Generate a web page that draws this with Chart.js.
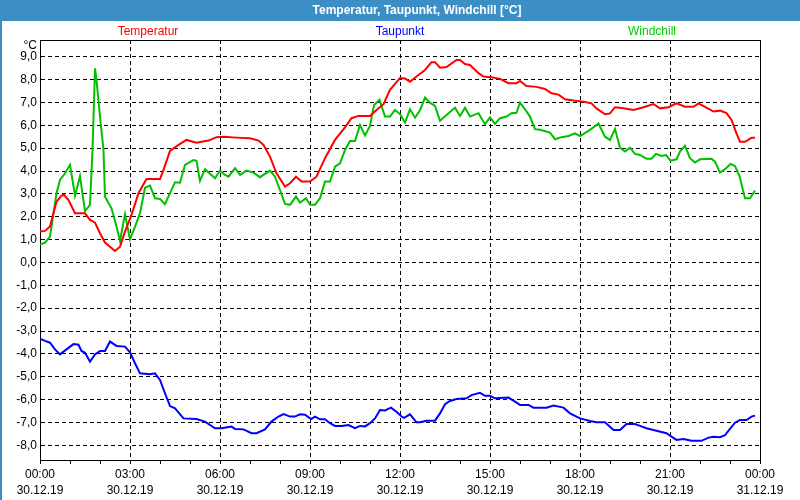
<!DOCTYPE html>
<html><head><meta charset="utf-8">
<script src="https://cdn.jsdelivr.net/npm/chart.js@4.4.0/dist/chart.umd.min.js"></script>
<style>html,body{margin:0;padding:0;background:#fff;}canvas{display:block}</style>
</head><body>
<canvas id="c" width="800" height="500"></canvas>
<script>
const chartTitle = 'Temperatur, Taupunkt, Windchill [°C]';
const unitLabel = '°C';
const seriesNames = ['Temperatur', 'Taupunkt', 'Windchill'];
const seriesColors = ['#ff0000', '#0000ff', '#00c000'];
const legendColors = ['#ff0000', '#0000ff', '#00cc00'];

const xTickMinutes = [0, 180, 360, 540, 720, 900, 1080, 1260, 1440];
const xTickTimes = ['00:00', '03:00', '06:00', '09:00', '12:00', '15:00', '18:00', '21:00', '00:00'];
const xTickDates = ['30.12.19', '30.12.19', '30.12.19', '30.12.19', '30.12.19', '30.12.19', '30.12.19', '30.12.19', '31.12.19'];
const yTicks = [-8, -7, -6, -5, -4, -3, -2, -1, 0, 1, 2, 3, 4, 5, 6, 7, 8, 9];

// minutes since 30.12.19 00:00
const tempMinutes = [0,10,20,27,33,43,48,57,70,90,100,110,120,130,140,150,160,170,183,197,213,240,247,260,277,293,313,337,353,367,393,420,437,447,460,473,490,500,512,523,540,553,570,590,610,623,637,660,673,687,700,720,730,740,753,770,783,790,800,813,833,840,850,860,877,887,903,920,937,953,960,973,993,1010,1023,1037,1050,1067,1087,1103,1113,1130,1140,1150,1167,1187,1207,1227,1240,1257,1273,1290,1307,1317,1330,1347,1360,1373,1383,1393,1400,1410,1423,1430];
const tempValues = [1.35,1.38,1.57,2.16,2.66,2.92,2.96,2.73,2.15,2.15,1.86,1.74,1.28,0.87,0.69,0.50,0.69,1.35,2.08,3.03,3.65,3.65,4.05,4.88,5.14,5.36,5.24,5.33,5.48,5.50,5.46,5.43,5.33,5.14,4.63,3.90,3.32,3.46,3.75,3.54,3.54,3.75,4.56,5.36,5.91,6.31,6.41,6.41,6.67,6.92,7.55,8.07,8.05,7.90,8.13,8.42,8.76,8.76,8.52,8.55,8.86,8.86,8.68,8.64,8.28,8.13,8.10,8.03,7.84,7.84,7.94,7.72,7.68,7.59,7.40,7.34,7.14,7.08,7.03,6.96,6.74,6.48,6.52,6.79,6.74,6.67,6.79,6.93,6.74,6.79,6.96,6.81,6.81,6.96,6.81,6.60,6.64,6.53,6.23,5.65,5.28,5.28,5.45,5.45];

const dewMinutes = [0,10,20,30,40,53,67,77,83,90,100,110,120,130,140,153,170,180,190,200,220,230,240,250,260,270,287,313,330,350,363,383,390,407,423,433,450,463,477,487,500,510,520,530,542,550,560,570,580,590,603,617,630,640,650,660,670,680,690,702,713,723,728,740,753,760,773,790,800,810,820,833,853,863,880,890,900,910,937,950,960,977,987,1013,1027,1047,1060,1080,1100,1113,1130,1147,1160,1173,1190,1200,1213,1233,1253,1263,1273,1287,1303,1323,1337,1347,1360,1370,1380,1390,1400,1413,1423,1430];
const dewValues = [-3.33,-3.43,-3.51,-3.80,-4.02,-3.80,-3.57,-3.60,-3.87,-3.95,-4.34,-4.02,-3.87,-3.87,-3.46,-3.65,-3.68,-3.93,-4.41,-4.85,-4.89,-4.85,-5.14,-5.72,-6.28,-6.38,-6.82,-6.85,-6.96,-7.25,-7.25,-7.18,-7.28,-7.30,-7.47,-7.47,-7.30,-6.96,-6.74,-6.63,-6.74,-6.74,-6.64,-6.66,-6.85,-6.74,-6.86,-6.86,-7.03,-7.15,-7.15,-7.11,-7.25,-7.15,-7.17,-7.03,-6.82,-6.45,-6.47,-6.35,-6.53,-6.74,-6.80,-6.64,-6.99,-6.99,-6.92,-6.92,-6.60,-6.20,-6.06,-5.97,-5.94,-5.80,-5.70,-5.83,-5.83,-5.94,-5.91,-6.09,-6.23,-6.23,-6.35,-6.35,-6.26,-6.35,-6.60,-6.82,-6.93,-6.99,-6.99,-7.33,-7.33,-7.07,-7.07,-7.15,-7.25,-7.36,-7.47,-7.62,-7.76,-7.72,-7.80,-7.80,-7.66,-7.62,-7.64,-7.55,-7.28,-7.01,-6.89,-6.89,-6.74,-6.70];

const chillMinutes = [0,10,20,27,33,40,50,60,70,80,90,100,105,110,113,120,127,130,143,153,160,170,180,190,200,210,220,230,240,250,260,270,280,290,307,313,320,330,350,360,370,377,390,400,413,427,440,460,470,480,490,500,512,520,532,540,550,560,570,580,590,600,610,620,630,640,650,660,668,679,690,700,710,720,730,740,750,760,770,780,790,800,817,830,840,850,860,877,890,900,910,920,933,943,953,960,970,980,990,1000,1020,1030,1043,1057,1070,1080,1100,1117,1130,1140,1150,1160,1170,1180,1190,1200,1213,1223,1232,1243,1252,1261,1273,1280,1290,1300,1310,1320,1343,1350,1360,1370,1381,1390,1399,1410,1420,1430];
const chillValues = [0.78,0.87,1.13,2.15,3.03,3.61,3.90,4.27,2.92,3.78,2.25,2.52,4.92,8.49,7.98,6.38,4.92,2.88,2.37,1.57,0.95,2.11,1.01,1.57,2.15,3.27,3.36,2.81,2.78,2.55,3.03,3.51,3.49,4.27,4.48,4.45,3.57,4.08,3.68,4.02,3.83,3.75,4.12,3.83,4.02,3.93,3.73,4.02,3.75,3.17,2.56,2.52,2.88,2.62,2.81,2.52,2.52,2.81,3.54,3.54,4.19,4.34,4.92,5.31,5.31,6.01,5.55,5.97,6.89,7.11,6.38,6.38,6.67,6.49,6.12,6.70,6.33,6.66,7.21,6.99,6.85,6.20,6.53,6.77,6.41,6.77,6.38,6.53,6.05,6.34,6.06,6.31,6.38,6.53,6.55,6.99,6.70,6.38,5.83,5.80,5.68,5.39,5.48,5.53,5.65,5.53,5.80,6.08,5.50,5.36,5.84,5.02,4.85,5.02,4.75,4.70,4.54,4.54,4.75,4.66,4.70,4.45,4.51,4.85,5.10,4.56,4.37,4.51,4.54,4.41,3.93,4.08,4.31,4.22,3.78,2.81,2.81,3.14];

function pts(xs, ys) { return xs.map((x, i) => ({ x: x, y: ys[i] })); }

const FONT = '"Liberation Sans", Arial, sans-serif';
const TITLE_BLUE = '#3b8fc5';

const decorPlugin = {
  id: 'decor',
  beforeDraw(chart) {
    const ctx = chart.ctx;
    const W = chart.width;
    ctx.save();
    ctx.fillStyle = '#ffffff';
    ctx.fillRect(0, 0, W, chart.height);
    ctx.fillStyle = TITLE_BLUE;
    ctx.fillRect(0, 0, W, 21);
    ctx.fillRect(0, 0, 2, chart.height);
    ctx.fillStyle = '#ffffff';
    ctx.font = 'bold 12px ' + FONT;
    ctx.textAlign = 'center';
    ctx.textBaseline = 'middle';
    ctx.fillText(chartTitle, 417, 11);
    const a = chart.chartArea;
    const legendX = [0.15, 0.5, 0.85];
    ctx.font = '12px ' + FONT;
    seriesNames.forEach((n, i) => {
      ctx.fillStyle = legendColors[i];
      ctx.fillText(n, a.left + (a.right - a.left) * legendX[i], 32);
    });
    ctx.fillStyle = '#000';
    ctx.textAlign = 'right';
    ctx.fillText(unitLabel, 37, 46);
    ctx.restore();
  },
  afterDatasetsDraw(chart) {
    const ctx = chart.ctx;
    const a = chart.chartArea;
    ctx.save();
    ctx.strokeStyle = '#000';
    ctx.lineWidth = 1;
    ctx.beginPath();
    ctx.moveTo(a.left, Math.round(a.top) + 0.5);
    ctx.lineTo(a.right + 1, Math.round(a.top) + 0.5);
    ctx.moveTo(Math.round(a.right) + 0.5, a.top);
    ctx.lineTo(Math.round(a.right) + 0.5, a.bottom);
    ctx.stroke();
    ctx.restore();
  }
};

new Chart(document.getElementById('c'), {
  type: 'line',
  data: {
    datasets: [
      { label: seriesNames[0], data: pts(tempMinutes, tempValues), borderColor: seriesColors[0] },
      { label: seriesNames[1], data: pts(dewMinutes, dewValues), borderColor: seriesColors[1] },
      { label: seriesNames[2], data: pts(chillMinutes, chillValues), borderColor: seriesColors[2] }
    ]
  },
  options: {
    responsive: false,
    animation: false,
    events: [],
    elements: {
      line: { borderWidth: 2, tension: 0, fill: false },
      point: { radius: 0 }
    },
    layout: { padding: { top: 40, right: 40, left: 0, bottom: 0 } },
    plugins: { legend: { display: false }, title: { display: false }, tooltip: { enabled: false } },
    scales: {
      x: {
        type: 'linear',
        min: 0,
        max: 1440,
        afterBuildTicks(scale) {
          const t = [];
          for (let m = 0; m <= 1440; m += 60) t.push({ value: m });
          scale.ticks = t;
        },
        afterFit(scale) { scale.height = 40; },
        ticks: {
          autoSkip: false,
          maxRotation: 0,
          padding: 3,
          color: '#000',
          font: { family: FONT, size: 12, lineHeight: 1.3333 },
          callback(v) {
            const i = xTickMinutes.indexOf(v);
            return i >= 0 ? [xTickTimes[i], xTickDates[i]] : '';
          }
        },
        grid: {
          drawTicks: true,
          tickLength: 4,
          tickColor: '#000',
          lineWidth: 1,
          color(ctx) {
            const v = ctx.tick ? ctx.tick.value : -1;
            return (v % 180 === 0 && v > 0 && v < 1440) ? '#000' : 'rgba(0,0,0,0)';
          }
        },
        border: { display: true, color: '#000', width: 1, dash: [4, 3] }
      },
      y: {
        min: -8.64,
        max: 9.73,
        afterBuildTicks(scale) { scale.ticks = yTicks.map(v => ({ value: v })); },
        afterFit(scale) { scale.width = 40; },
        ticks: {
          padding: 3,
          color: '#000',
          font: { family: FONT, size: 12 },
          callback(v) { return v.toFixed(1).replace('.', ','); }
        },
        grid: { drawTicks: false, color: '#000', lineWidth: 1 },
        border: { display: true, color: '#000', width: 1, dash: [4, 3] }
      }
    }
  },
  plugins: [decorPlugin]
});
</script>
</body></html>
